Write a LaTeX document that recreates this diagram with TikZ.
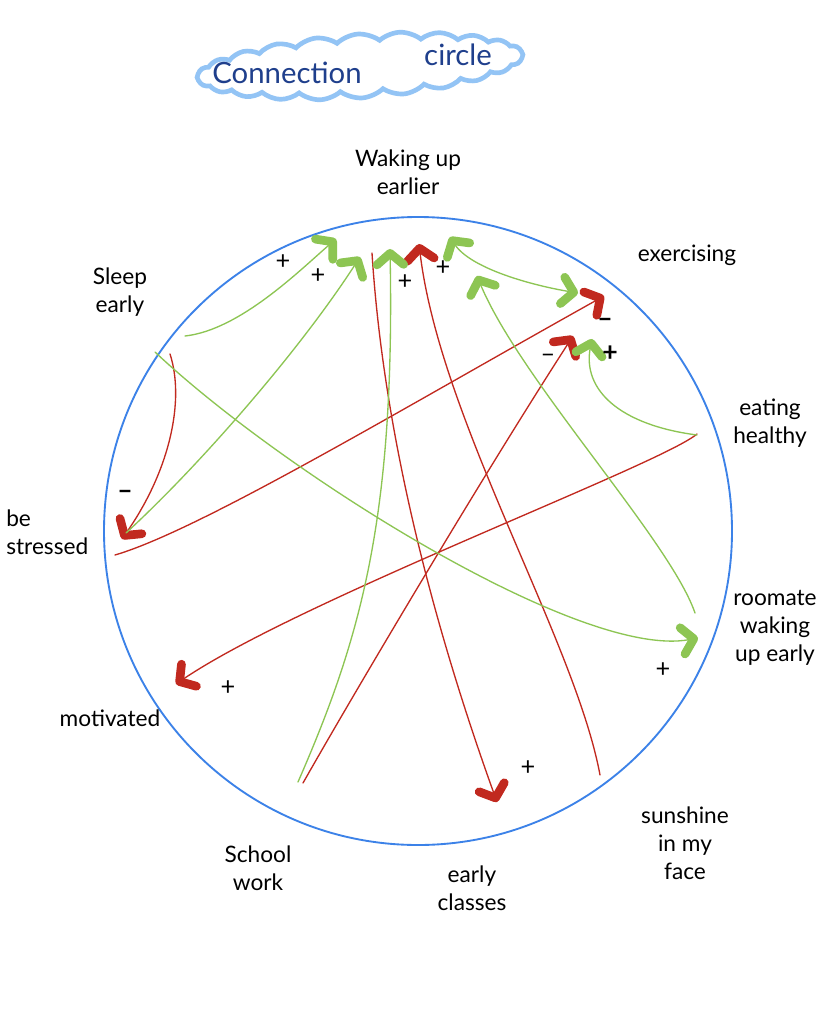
\documentclass[tikz,border=0pt]{standalone}
\usepackage{fontspec}
\setmainfont{Lato}
\usetikzlibrary{arrows.meta,shapes.symbols}
\definecolor{cgreen}{HTML}{8DC553}
\definecolor{cred}{HTML}{C1291F}
\definecolor{cblue}{HTML}{3C82E8}
\definecolor{ccloud}{HTML}{93C4F5}
\definecolor{ctitle}{HTML}{1F3F8C}
\tikzset{
  lbl/.style={font=\fontsize{17}{21}\selectfont, align=center, inner sep=0pt},
  sgn/.style={font=\fontsize{19}{19}\selectfont, inner sep=0pt},
  bsgn/.style={font=\fontsize{20}{20}\selectfont\bfseries, inner sep=0pt},
  tip/.style={-{Straight Barb[length=8.5pt,width=20pt,line width=6.5pt,round]}},
  dtip/.style={{Straight Barb[length=8.5pt,width=20pt,line width=6.5pt,round]}-{Straight Barb[length=8.5pt,width=20pt,line width=6.5pt,round]}},
  gline/.style={cgreen, line width=1pt, line cap=round},
  rline/.style={cred, line width=1pt, line cap=round},
}
\begin{document}
\begin{tikzpicture}[x=0.75pt,y=-0.75pt]
\useasboundingbox (0,0) rectangle (838,1024);
\fill[white] (0,0) rectangle (838,1024);
% title cloud
\node (cloud) [cloud, draw=ccloud, line width=3.5pt, cloud puffs=24, cloud puff arc=80, aspect=5.4, minimum width=245pt, minimum height=48pt, rotate=4, inner sep=0pt] at (360,66) {};
\node (tconn) [font=\fontsize{22}{22}\selectfont, text=ctitle, inner sep=0pt] at (287,73) {Connection};
\node (tcirc) [font=\fontsize{22}{22}\selectfont, text=ctitle, inner sep=0pt] at (458,55) {circle};
% main circle
\node (ring) [circle, draw=cblue, line width=1.4pt, minimum size=471pt, inner sep=0pt] at (418,531) {};
% labels
\node (wake) [lbl] at (408,172) {Waking up\\earlier};
\node (exer) [lbl] at (687,255) {exercising};
\node (sleep) [lbl] at (120,292) {Sleep\\early};
\node (eat) [lbl] at (770,423) {eating\\healthy};
\node (stress) [lbl, align=left, anchor=west] at (6,532) {be\\stressed};
\node (room) [lbl] at (775,628) {roomate\\waking\\up early};
\node (motiv) [lbl] at (110,718) {motivated};
\node (school) [lbl] at (258,868) {School\\work};
\node (early) [lbl] at (472,888) {early\\classes};
\node (sun) [lbl] at (685,843) {sunshine\\in my\\face};
% end points
\coordinate (g1s) at (185,336);  \coordinate (g1e) at (336,239);
\coordinate (g2s) at (126,533);  \coordinate (g2e) at (360,257);
\coordinate (g3s) at (298,782);  \coordinate (g3e) at (390,249);
\coordinate (g4s) at (697,435);  \coordinate (g4e) at (592,339);
\coordinate (g5s) at (450,237);  \coordinate (g5e) at (578,293);
\coordinate (g6s) at (695,613);  \coordinate (g6e) at (477,276);
\coordinate (g7s) at (155,352);  \coordinate (g7e) at (698,638);
\coordinate (r1s) at (170,354);  \coordinate (r1e) at (122,539);
\coordinate (r2s) at (115,555);  \coordinate (r2e) at (604,296);
\coordinate (r3s) at (372,253);  \coordinate (r3e) at (497,802);
\coordinate (r4s) at (600,775);  \coordinate (r4e) at (419,244);
\coordinate (r5s) at (303,783);  \coordinate (r5e) at (573,336);
\coordinate (r6s) at (697,434);  \coordinate (r6e) at (176,684);
% red connectors
\draw[rline,tip] (r1s) .. controls (185,400) and (170,470) .. (r1e);
\draw[rline,tip] (r2s) .. controls (200,530) and (400,410) .. (r2e);
\draw[rline,tip] (r3s) .. controls (380,380) and (410,560) .. (r3e);
\draw[rline,tip] (r4s) .. controls (575,640) and (440,420) .. (r4e);
\draw[rline,tip] (r5s) .. controls (350,700) and (480,480) .. (r5e);
\draw[rline,tip] (r6s) .. controls (660,465) and (300,600) .. (r6e);
% green connectors
\draw[gline,tip] (g1s) .. controls (240,330) and (300,270) .. (g1e);
\draw[gline,tip] (g2s) .. controls (200,465) and (300,350) .. (g2e);
\draw[gline,tip] (g3s) .. controls (360,640) and (395,520) .. (g3e);
\draw[gline,tip] (g4s) .. controls (620,425) and (582,390) .. (g4e);
\draw[gline,dtip] (g5s) .. controls (470,268) and (530,285) .. (g5e);
\draw[gline,tip] (g6s) .. controls (670,540) and (520,380) .. (g6e);
\draw[gline,tip] (g7s) .. controls (280,470) and (580,660) .. (g7e);
% signs
\node (p1) [sgn] at (283,262) {+};
\node (p2) [sgn] at (318,276) {+};
\node (p3) [sgn] at (405,282) {+};
\node (p4) [sgn] at (443,268) {+};
\node (p5) [sgn] at (663,670) {+};
\node (p6) [sgn] at (528,768) {+};
\node (p7) [sgn] at (228,688) {+};
\node (p8) [bsgn] at (610,354) {+};
\node (m1) [bsgn] at (125,495) {\textendash};
\node (m2) [bsgn] at (605,323) {\textendash};
\node (m3) [sgn] at (548,358) {\textendash};
\end{tikzpicture}
\end{document}
